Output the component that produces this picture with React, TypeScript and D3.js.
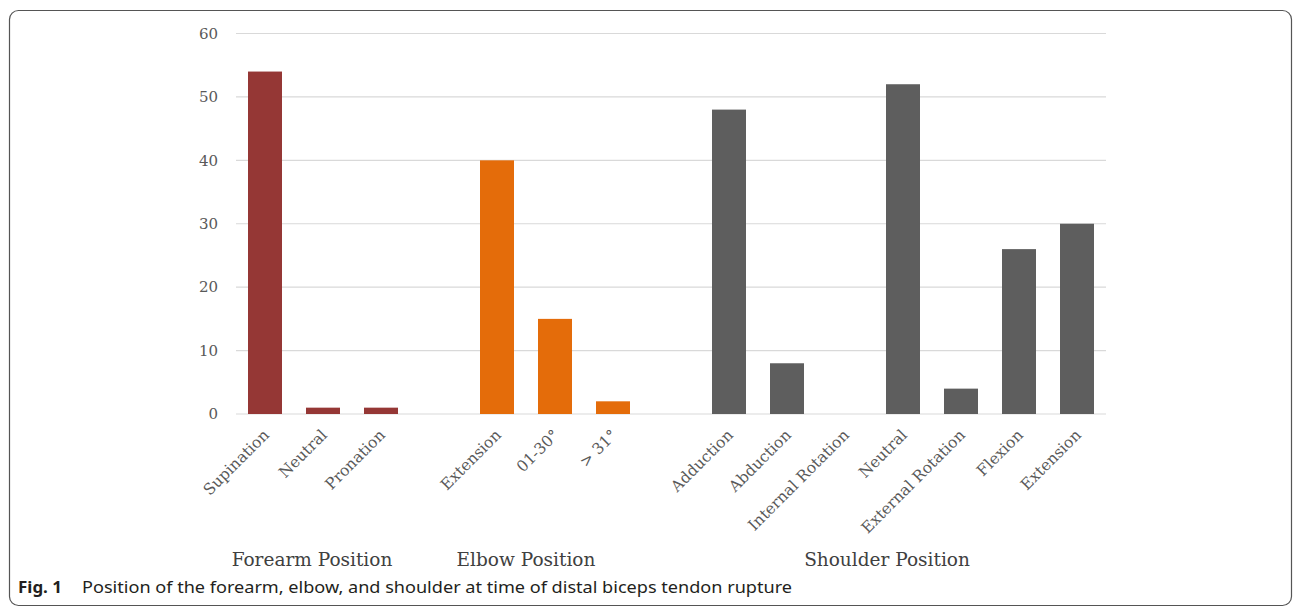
import React from "react";
import * as d3 from "d3";

const forearmCats = ["Supination", "Neutral", "Pronation"];
const forearmVals = [54, 1, 1];
const elbowCats = ["Extension", "01-30°", "> 31°"];
const elbowVals = [40, 15, 2];
const shoulderCats = ["Adduction", "Abduction", "Internal Rotation", "Neutral", "External Rotation", "Flexion", "Extension"];
const shoulderVals = [48, 8, 0, 52, 4, 26, 30];
const groupNames = ["Forearm Position", "Elbow Position", "Shoulder Position"];
const groupColors = ["#953735", "#E46C0A", "#5E5E5E"];
const yTicks = [0, 10, 20, 30, 40, 50, 60];
const captionBold = "Fig. 1";
const captionText = "Position of the forearm, elbow, and shoulder at time of distal biceps tendon rupture";

const W = 1293, H = 607;
const plotL = 236, plotR = 1106, plotT = 33.5, plotB = 414;
const groupLabelShift = [-11, -29, -16];

type Slot = { id: string; label: string; value: number | null; group: number };

export default function App() {
  const groups = [
    { cats: forearmCats, vals: forearmVals },
    { cats: elbowCats, vals: elbowVals },
    { cats: shoulderCats, vals: shoulderVals },
  ];
  const slots: Slot[] = [];
  groups.forEach((g, gi) => {
    if (gi > 0) slots.push({ id: `blank${gi}`, label: "", value: null, group: -1 });
    g.cats.forEach((c, i) => slots.push({ id: `${gi}-${i}`, label: c, value: g.vals[i], group: gi }));
  });

  const x = d3.scaleBand<string>().domain(slots.map((s) => s.id)).range([plotL, plotR]).paddingInner(0.4138).paddingOuter(0.2069);
  const y = d3.scaleLinear().domain([0, 60]).range([plotB, plotT]);
  const bw = x.bandwidth();

  const serif = "'DejaVu Serif', serif";

  return (
    <svg width={W} height={H} style={{ position: "absolute", left: 0, top: 0, background: "#fff" }}>
      <rect x={9.5} y={10.5} width={1282} height={595} rx={9} fill="#fff" stroke="#555" strokeWidth={1.2} />
      {yTicks.map((t) => (
        <g key={t}>
          <line x1={plotL} x2={plotR} y1={y(t)} y2={y(t)} stroke="#D9D9D9" strokeWidth={1.2} />
          <text x={218} y={y(t)} dy="0.35em" textAnchor="end" fontFamily={serif} fontSize={15} fill="#595959">{t}</text>
        </g>
      ))}
      {slots.filter((s) => s.value !== null).map((s) => (
        <rect key={s.id} x={x(s.id)} y={y(s.value as number)} width={bw} height={y(0) - y(s.value as number)} fill={groupColors[s.group]} />
      ))}
      {slots.filter((s) => s.label).map((s) => {
        const cx = (x(s.id) as number) + bw / 2;
        return (
          <text key={"l" + s.id} transform={`translate(${cx + 5},${plotB + 22}) rotate(-45)`} textAnchor="end" fontFamily={serif} fontSize={15.5} fill="#595959">{s.label}</text>
        );
      })}
      {groups.map((g, gi) => {
        const ids = slots.filter((s) => s.group === gi).map((s) => s.id);
        const c = ((x(ids[0]) as number) + (x(ids[ids.length - 1]) as number) + bw) / 2 + groupLabelShift[gi];
        return (
          <text key={"g" + gi} x={c} y={566} textAnchor="middle" fontFamily={serif} fontSize={18.5} fill="#404040">{groupNames[gi]}</text>
        );
      })}
      <text x={18} y={593} fontFamily="'Noto Sans', sans-serif" fontSize={16.5} fill="#231F20">
        <tspan fontWeight="bold" textLength={44} lengthAdjust="spacingAndGlyphs">{captionBold}</tspan>
        <tspan x={82} textLength={710} lengthAdjust="spacingAndGlyphs">{captionText}</tspan>
      </text>
    </svg>
  );
}
